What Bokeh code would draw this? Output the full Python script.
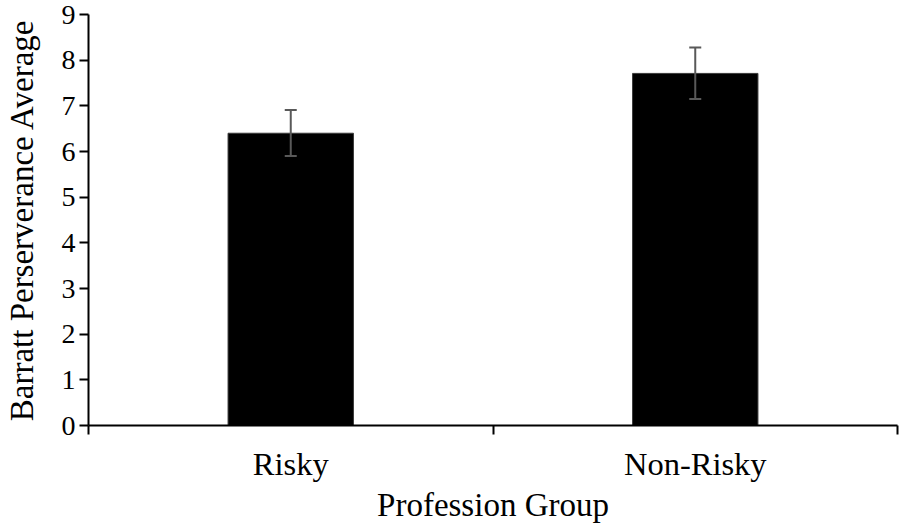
from bokeh.plotting import figure
from bokeh.models import Range1d, FixedTicker, ColumnDataSource, Whisker, TeeHead
from bokeh.embed import file_html
from bokeh.resources import INLINE

groups = ["Risky", "Non-Risky"]
means = [6.40, 7.71]
err_low = [5.90, 7.15]
err_high = [6.91, 8.28]
y_ticks = [0, 1, 2, 3, 4, 5, 6, 7, 8, 9]

FONT = "Liberation Serif"

xs = [i + 0.5 for i in range(len(groups))]
src = ColumnDataSource(dict(x=xs, top=means, lo=err_low, hi=err_high, name=groups))

p = figure(width=899, height=525, output_backend="svg", toolbar_location=None,
           x_range=Range1d(0, len(groups)), y_range=Range1d(0, 9),
           min_border_left=86, min_border_right=2, min_border_top=14, min_border_bottom=99)
p.outline_line_color = None
p.xgrid.grid_line_color = None
p.ygrid.grid_line_color = None
p.background_fill_color = "white"
p.border_fill_color = "white"

p.vbar(x="x", top="top", bottom=0, width=0.31, source=src, fill_color="black", line_color="#3a3a3a", line_width=1)

w = Whisker(base="x", lower="lo", upper="hi", source=src, line_color="#595959", line_width=2,
            upper_head=TeeHead(size=12, line_color="#595959", line_width=2),
            lower_head=TeeHead(size=12, line_color="#595959", line_width=2),
            level="overlay")
p.add_layout(w)

# x axis: labels at category centers, tick marks at category boundaries
p.xaxis.ticker = FixedTicker(ticks=xs, minor_ticks=list(range(len(groups) + 1)))
p.xaxis.major_label_overrides = {x: g for x, g in zip(xs, groups)}
p.xaxis.major_tick_out = 0
p.xaxis.major_tick_in = 0
p.xaxis.minor_tick_out = 9
p.xaxis.minor_tick_in = 0
p.xaxis.minor_tick_line_color = "black"
p.xaxis.minor_tick_line_width = 2
p.xaxis.axis_label = "Profession Group"
p.xaxis.major_label_standoff = 11
p.xaxis.axis_label_standoff = 2

p.yaxis.ticker = FixedTicker(ticks=y_ticks)
p.yaxis.minor_tick_line_color = None
p.yaxis.major_tick_out = 9
p.yaxis.major_tick_in = 0
p.yaxis.axis_label = "Barratt Perserverance Average"
p.yaxis.major_label_standoff = 4
p.yaxis.axis_label_standoff = 19

for ax in (p.xaxis, p.yaxis):
    ax.axis_line_color = "black"
    ax.axis_line_width = 2
    ax.major_tick_line_color = "black"
    ax.major_tick_line_width = 2
    ax.major_label_text_font = FONT
    ax.major_label_text_color = "black"
    ax.axis_label_text_font = FONT
    ax.axis_label_text_font_style = "normal"
    ax.axis_label_text_color = "black"
    ax.axis_label_text_font_size = "33px"

p.xaxis.major_label_text_font_size = "32.5px"
p.yaxis.major_label_text_font_size = "28px"

open("out.html", "w").write(file_html(p, INLINE))
